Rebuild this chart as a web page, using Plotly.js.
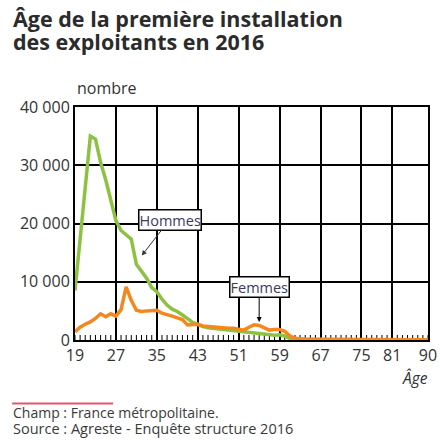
<!DOCTYPE html>
<html>
<head>
<meta charset="utf-8">
<script src="https://cdn.plot.ly/plotly-3.0.1.min.js"></script>
<style>
  html, body { margin: 0; padding: 0; background: #fff; }
  #target { width: 440px; height: 440px; }
</style>
</head>
<body>
<div id="target"></div>
<script>
var ages = [19, 20, 21, 22, 23, 24, 25, 26, 27, 28, 29, 30, 31, 32, 33, 34, 35, 36, 37, 38,
  39, 40, 41, 42, 43, 44, 45, 46, 47, 48, 49, 50, 51, 52, 53, 54, 55, 56, 57, 58,
  59, 60, 61, 62, 63, 64, 65, 66, 67, 68, 69, 70, 71, 72, 73, 74, 75, 76, 77, 78,
  79, 80, 81, 82, 83, 84, 85, 86, 87, 90];

var hommes = [8500, 17500, 26500, 35000, 34500, 30500, 27500, 24000, 20500, 18800,
  18000, 17300, 13000, 11800, 10600, 9000, 8300, 7000, 6000, 5300,
  4900, 4300, 3700, 3000, 2700, 2300, 2100, 2000, 1900, 1800,
  1600, 1500, 1400, 1300, 1200, 1100, 1000, 950, 850, 800,
  900, 700, 250, 120, 90, 70, 60, 50, 45, 40,
  30, 30, 25, 25, 20, 20, 20, 15, 15, 15,
  10, 10, 10, 10, 10, 5, 5, 5, 5, 5];

var femmes = [1400, 2200, 2700, 3100, 3700, 4500, 4000, 4500, 4100, 5200,
  9100, 6800, 5100, 4900, 5000, 5000, 5100, 4600, 4400, 4100,
  3800, 3500, 2600, 2700, 2700, 2400, 2300, 2200, 2200, 2100,
  2000, 2000, 1800, 1700, 2200, 2600, 2500, 2100, 1700, 1800,
  1800, 1500, 700, 300, 180, 150, 130, 120, 110, 100,
  100, 100, 90, 90, 90, 80, 80, 80, 70, 70,
  70, 60, 60, 60, 50, 50, 50, 40, 40, 40];

var tickAges = [19, 27, 35, 43, 51, 59, 67, 75, 81, 90];
var yTicks = [0, 10000, 20000, 30000, 40000];
var yTickText = ['0', '10 000', '20 000', '30 000', '40 000'];

// positions on the axis follow the order of the age classes
var pos = ages.map(function(a, i) { return i; });
var tickPos = tickAges.map(function(a) { return ages.indexOf(a); });

var traces = [
  {
    x: pos, y: hommes, name: 'Hommes', type: 'scatter', mode: 'lines',
    line: { color: '#8cc23f', width: 3.5 }
  },
  {
    x: pos, y: femmes, name: 'Femmes', type: 'scatter', mode: 'lines',
    line: { color: '#f5871f', width: 3.5 }
  }
];

// small tick for every age class, standing on the x axis
var yMax = 40000;
var tickLen = yMax * 5 / 233;
var ageTicks = pos.map(function(p) {
  return { type: 'line', xref: 'x', yref: 'y', x0: p, x1: p, y0: 0, y1: tickLen,
    layer: 'below', line: { color: '#000', width: 1 } };
});

var txt = '#333333';
var fam = 'Open Sans, sans-serif';
var layout = {
  width: 440,
  height: 440,
  margin: { l: 75, r: 12, t: 107, b: 100 },
  paper_bgcolor: '#fff',
  plot_bgcolor: '#fff',
  showlegend: false,
  font: { family: fam, size: 16, color: txt },
  xaxis: {
    range: [0, pos.length - 1],
    tickmode: 'array',
    tickvals: tickPos,
    ticktext: tickAges.map(String),
    ticks: '',
    showgrid: true,
    gridcolor: '#000',
    gridwidth: 2,
    showline: true,
    linecolor: '#000',
    linewidth: 2,
    mirror: true,
    zeroline: false,
    fixedrange: true,
    tickfont: { size: 16, color: txt }
  },
  yaxis: {
    range: [0, yMax],
    tickmode: 'array',
    tickvals: yTicks,
    ticktext: yTickText,
    ticks: '',
    showgrid: true,
    gridcolor: '#000',
    gridwidth: 2,
    showline: true,
    linecolor: '#000',
    linewidth: 2,
    mirror: true,
    zeroline: false,
    fixedrange: true,
    tickfont: { size: 16, color: txt }
  },
  shapes: ageTicks.concat([
    { type: 'line', xref: 'paper', yref: 'paper', x0: -0.178, x1: 0.108, y0: -0.272, y1: -0.272,
      line: { color: '#e2566e', width: 2 } }
  ]),
  annotations: [
    { text: '<b>Âge de la première installation</b>', xref: 'paper', yref: 'paper', x: -0.18, y: 1.38,
      xanchor: 'left', yanchor: 'middle', showarrow: false, font: { family: fam, size: 21.5, color: '#2b2b2b' } },
    { text: '<b>des exploitants en 2016</b>', xref: 'paper', yref: 'paper', x: -0.18, y: 1.283,
      xanchor: 'left', yanchor: 'middle', showarrow: false, font: { family: fam, size: 21.5, color: '#2b2b2b' } },
    { text: 'nombre', xref: 'paper', yref: 'paper', x: 0, y: 1.082, xanchor: 'left', yanchor: 'middle',
      showarrow: false, font: { size: 16, color: txt } },
    { text: '<i>Âge</i>', xref: 'paper', yref: 'paper', x: 1.005, y: -0.163, xanchor: 'right', yanchor: 'middle',
      showarrow: false, font: { size: 15.5, color: txt } },
    { text: 'Champ : France métropolitaine.', xref: 'paper', yref: 'paper', x: -0.18, y: -0.313,
      xanchor: 'left', yanchor: 'middle', showarrow: false, font: { size: 14, color: '#3a3a3a' } },
    { text: 'Source : Agreste - Enquête structure 2016', xref: 'paper', yref: 'paper', x: -0.18, y: -0.378,
      xanchor: 'left', yanchor: 'middle', showarrow: false, font: { size: 14.5, color: '#3a3a3a' } },
    { text: 'Hommes', x: 13.05, y: 14500, xref: 'x', yref: 'y', ax: 28, ay: -36,
      showarrow: true, arrowhead: 2, arrowsize: 1, arrowwidth: 1, arrowcolor: '#333',
      bgcolor: '#fff', bordercolor: '#000', borderwidth: 1.5, borderpad: 0,
      font: { size: 14.5, color: '#3b3b60' } },
    { text: 'Femmes', x: 36, y: 3100, xref: 'x', yref: 'y', ax: 0, ay: -35,
      showarrow: true, arrowhead: 2, arrowsize: 1, arrowwidth: 1, arrowcolor: '#000',
      bgcolor: '#fff', bordercolor: '#000', borderwidth: 1.5, borderpad: 0,
      font: { size: 14.5, color: '#3b3b60' } }
  ]
};

Plotly.newPlot('target', traces, layout, { displayModeBar: false, staticPlot: true });
</script>
</body>
</html>
